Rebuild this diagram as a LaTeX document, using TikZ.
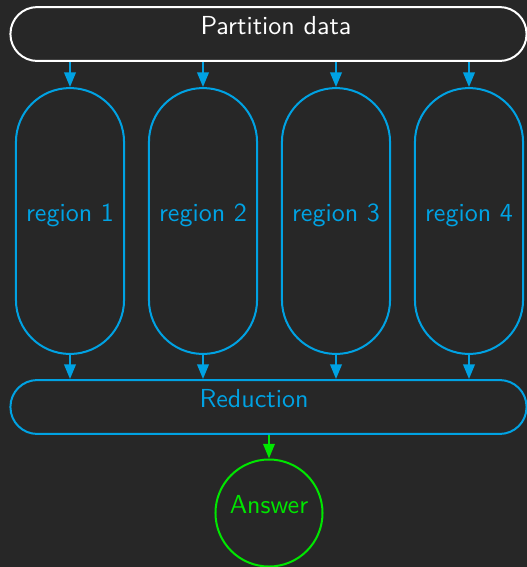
\documentclass[tikz,border=0pt]{standalone}
\usetikzlibrary{arrows.meta}
\definecolor{bgdark}{RGB}{39,39,39}
\definecolor{regcyan}{RGB}{0,162,227}
\definecolor{ansgreen}{RGB}{0,230,0}
\begin{document}
\begin{tikzpicture}[x=0.384pt, y=-0.384pt, font=\sffamily,
    line width=0.77pt,
    bar/.style={draw, rectangle, rounded corners=10.3pt, minimum width=198.2pt,
      minimum height=20.7pt},
    tag/.style={text height=1.6ex, text depth=1.6ex, inner sep=0pt},
    region/.style={draw=regcyan, text=regcyan, rectangle, rounded corners=20.7pt,
      minimum width=41.5pt, minimum height=102.1pt, text height=1.6ex, text depth=1.6ex},
    result/.style={draw=ansgreen, text=ansgreen, circle, minimum size=41.1pt,
      inner sep=0pt, text height=1.6ex, text depth=1.6ex},
    feed/.style={-{Triangle[length=5.6pt,width=4.4pt]}}
    ]
    \fill[bgdark] (0,0) rectangle (527,567);
    \useasboundingbox (0,0) rectangle (527,567);
    \node[bar, draw=white] (part) at (268.5,34) {};
    \node[tag, text=white] (parttext) at (276,34) {Partition data};
    \node[bar, draw=regcyan] (red) at (268.5,407) {};
    \node[tag, text=regcyan] (redtext) at (254,407) {Reduction};
    \node[result] (ans) at (269,513) {Answer};
    \foreach \i/\x in {1/70,2/203,3/336,4/469} {
      \node[region] (r\i) at (\x,221) {region \i};
      \draw[feed, regcyan] (part.south -| r\i.north) -- (r\i.north);
      \draw[feed, regcyan] (r\i.south) -- (red.north -| r\i.south);
    }
    \draw[feed, ansgreen] (red.south -| ans.north) -- (ans.north);
  \end{tikzpicture}
\end{document}
